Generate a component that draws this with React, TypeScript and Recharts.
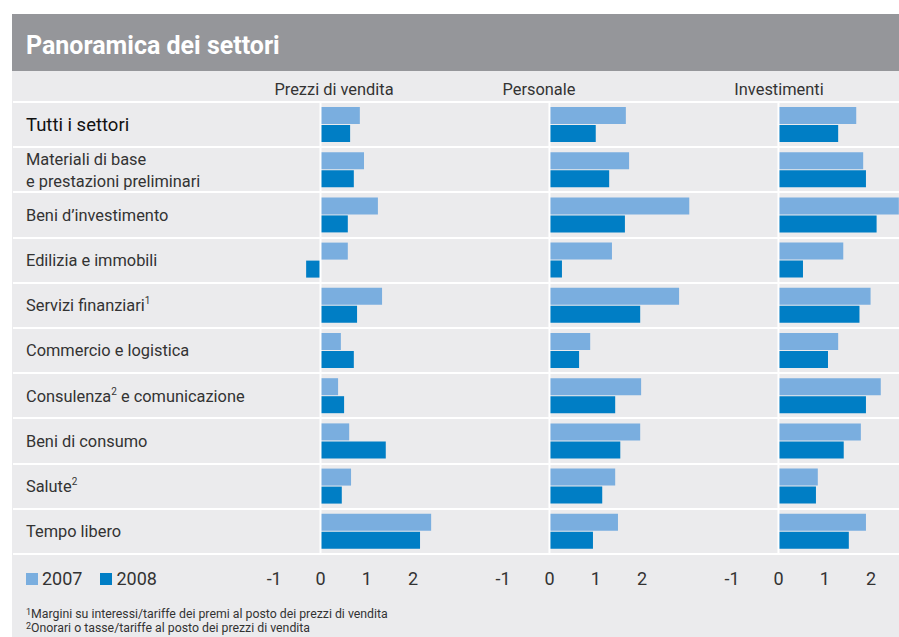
import { Bar, BarChart, Legend, ReferenceLine, XAxis, YAxis } from 'recharts'

const sectors = [
  'Tutti i settori',
  'Materiali di base\ne prestazioni preliminari',
  'Beni d’investimento',
  'Edilizia e immobili',
  'Servizi finanziari¹',
  'Commercio e logistica',
  'Consulenza² e comunicazione',
  'Beni di consumo',
  'Salute²',
  'Tempo libero'
]

const prezzi2007 = [0.85, 0.94, 1.24, 0.59, 1.33, 0.44, 0.38, 0.62, 0.66, 2.39]
const prezzi2008 = [0.64, 0.72, 0.59, -0.31, 0.79, 0.72, 0.51, 1.41, 0.46, 2.15]
const personale2007 = [1.65, 1.72, 3.02, 1.35, 2.8, 0.88, 1.98, 1.96, 1.42, 1.48]
const personale2008 = [1.0, 1.29, 1.63, 0.27, 1.96, 0.64, 1.42, 1.53, 1.14, 0.94]
const investimenti2007 = [1.68, 1.83, 3.0, 1.4, 1.99, 1.29, 2.21, 1.78, 0.85, 1.89]
const investimenti2008 = [1.29, 1.89, 2.12, 0.53, 1.75, 1.07, 1.89, 1.41, 0.81, 1.52]

const axisTicks = [-1, 0, 1, 2]
const footnotes = [
  ['1', 'Margini su interessi/tariffe dei premi al posto dei prezzi di vendita'],
  ['2', 'Onorari o tasse/tariffe al posto dei prezzi di vendita']
]

const FONT = 'Roboto, "Noto Sans", Arial, sans-serif'
const LIGHT = '#7aaedf'
const DARK = '#007ec5'
const TEXT = '#333'
const PLOT_TOP = 102
const ROW_H = 45.2
const AXIS_H = 40
const CHART_H = PLOT_TOP + ROW_H * sectors.length + AXIS_H
const UNIT = 46.3
const DOMAIN_MIN = -1.5

const buildRows = (a: number[], b: number[]) =>
  sectors.map((name, i) => ({ name, y2007: a[i], y2008: b[i] }))

const panels = [
  { title: 'Prezzi di vendita', titleX: 334, zero: 320.5, max: 2.8, rows: buildRows(prezzi2007, prezzi2008) },
  { title: 'Personale', titleX: 539, zero: 549.5, max: 3.2, rows: buildRows(personale2007, personale2008) },
  { title: 'Investimenti', titleX: 779, zero: 778.5, max: 2.6, rows: buildRows(investimenti2007, investimenti2008) }
]

// splits "Salute²" into normal text + raised footnote digit
const withSup = (line: string) =>
  line.split(/([¹²])/).filter(Boolean).map((part, i) =>
    part === '¹' || part === '²' ? (
      <tspan key={i} fontSize={10} dy={-7}>{part === '¹' ? '1' : '2'}</tspan>
    ) : (
      <tspan key={i} dy={i > 0 ? 7 : 0}>{part}</tspan>
    )
  )

const RowLabel = (props: any) => {
  const { y, payload } = props
  const lines = String(payload.value).split('\n')
  const main = payload.value === sectors[0]
  const size = main ? 18.5 : 16.4
  return (
    <g>
      {lines.map((line, i) => (
        <text
          key={i}
          x={26}
          y={y + (i - (lines.length - 1) / 2) * 22 + size * 0.35}
          fill={main ? '#111' : TEXT}
          fontSize={size}
          fontFamily={FONT}
        >
          {withSup(line)}
        </text>
      ))}
    </g>
  )
}

const LegendContent = ({ payload }: any) => (
  <div style={{ display: 'flex', alignItems: 'center', fontSize: 18, color: TEXT, fontFamily: FONT }}>
    {(payload || []).map((entry: any) => (
      <span key={entry.value} style={{ display: 'flex', alignItems: 'center', marginRight: 18 }}>
        <span style={{ width: 12, height: 12, background: entry.color, marginRight: 4 }} />
        {entry.value}
      </span>
    ))}
  </div>
)

export default function App() {
  return (
    <div
      style={{
        position: 'absolute',
        left: 0,
        top: 0,
        width: 899,
        height: 637,
        overflow: 'hidden',
        background: '#fff',
        fontFamily: FONT
      }}
    >
      <div style={{ position: 'absolute', left: 12, top: 14, width: 887, height: 57, background: '#95969a' }} />
      <div
        style={{
          position: 'absolute',
          left: 26,
          top: 17,
          height: 57,
          lineHeight: '57px',
          color: '#fff',
          fontSize: 25,
          fontWeight: 700
        }}
      >
        Panoramica dei settori
      </div>
      <div style={{ position: 'absolute', left: 12, top: 71, width: 887, height: 566, background: '#ebebed' }} />

      {sectors.concat(['']).map((_, i) => (
        <div
          key={i}
          style={{
            position: 'absolute',
            left: 13,
            top: PLOT_TOP - 1 + i * ROW_H,
            width: 886,
            height: 2,
            background: '#fff'
          }}
        />
      ))}

      {panels.map((p) => (
        <div
          key={p.title}
          style={{
            position: 'absolute',
            left: p.titleX,
            top: 79.5,
            transform: 'translateX(-50%)',
            whiteSpace: 'nowrap',
            fontSize: 16.4,
            lineHeight: '20px',
            color: TEXT
          }}
        >
          {p.title}
        </div>
      ))}

      {panels.map((p, idx) => {
        const plotLeft = p.zero + DOMAIN_MIN * UNIT
        const plotWidth = (p.max - DOMAIN_MIN) * UNIT
        const first = idx === 0
        return (
          <div key={p.title} style={{ position: 'absolute', top: 0, left: first ? 0 : plotLeft }}>
            <BarChart
              width={first ? plotLeft + plotWidth : plotWidth}
              height={CHART_H}
              data={p.rows}
              layout="vertical"
              margin={{ top: PLOT_TOP, right: 0, bottom: 0, left: 0 }}
              barSize={17}
              barGap={1}
            >
              <XAxis
                type="number"
                domain={[DOMAIN_MIN, p.max]}
                allowDataOverflow
                ticks={axisTicks}
                interval={0}
                axisLine={false}
                tickLine={false}
                tickMargin={12}
                height={AXIS_H}
                tick={{ fill: TEXT, fontSize: 18, fontFamily: FONT }}
              />
              <YAxis
                type="category"
                dataKey="name"
                hide={!first}
                width={first ? plotLeft : 0}
                axisLine={false}
                tickLine={false}
                interval={0}
                tick={RowLabel}
              />
              <ReferenceLine x={0} stroke="#fff" strokeWidth={2} />
              <Bar dataKey="y2007" name="2007" fill={LIGHT} isAnimationActive={false} />
              <Bar dataKey="y2008" name="2008" fill={DARK} isAnimationActive={false} />
              {first && (
                <Legend
                  layout="horizontal"
                  align="center"
                  verticalAlign="middle"
                  wrapperStyle={{ left: 26, top: 568, width: 'auto' }}
                  content={LegendContent}
                />
              )}
            </BarChart>
          </div>
        )
      })}

      {footnotes.map(([mark, text], i) => (
        <div
          key={mark}
          style={{
            position: 'absolute',
            left: 26,
            top: 607 + i * 13.5,
            fontSize: 12.3,
            lineHeight: '14px',
            color: TEXT,
            whiteSpace: 'nowrap'
          }}
        >
          <sup style={{ fontSize: 9, verticalAlign: 'top', position: 'relative', top: -2 }}>{mark}</sup>
          {text}
        </div>
      ))}
    </div>
  )
}
